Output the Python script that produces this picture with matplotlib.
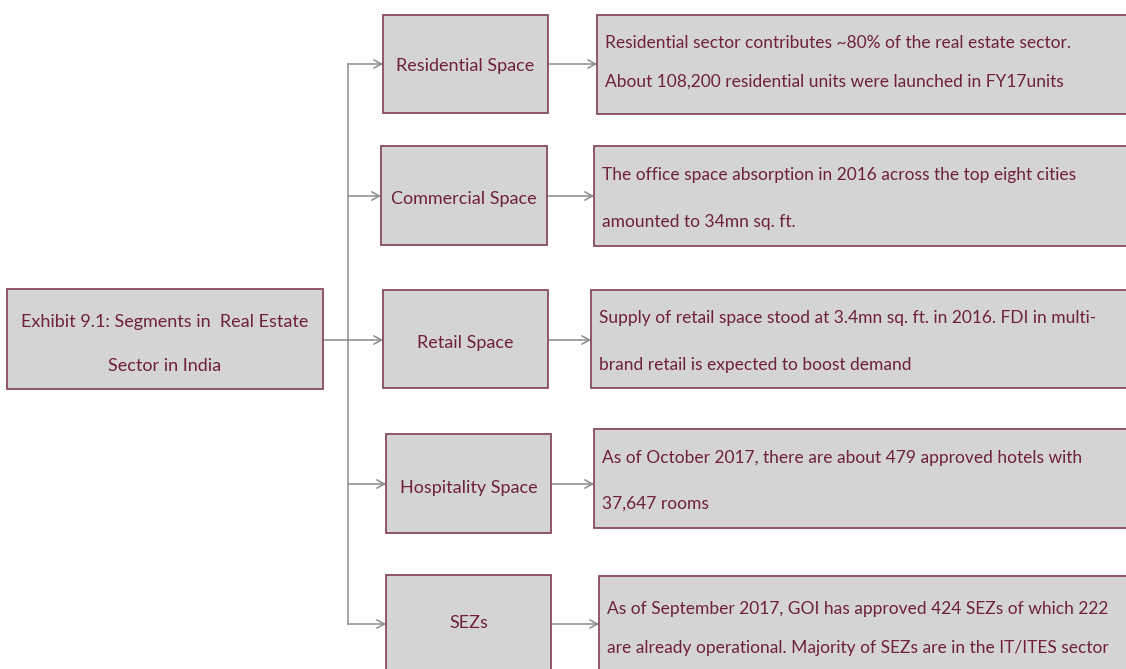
import matplotlib
matplotlib.use('Agg')
import matplotlib.pyplot as plt
from matplotlib.patches import Rectangle

title = ['Exhibit 9.1: Segments in  Real Estate', 'Sector in India']
segments = ['Residential Space', 'Commercial Space', 'Retail Space',
            'Hospitality Space', 'SEZs']
notes = [
    ['Residential sector contributes ~80% of the real estate sector.',
     'About 108,200 residential units were launched in FY17units'],
    ['The office space absorption in 2016 across the top eight cities',
     'amounted to 34mn sq. ft.'],
    ['Supply of retail space stood at 3.4mn sq. ft. in 2016. FDI in multi-',
     'brand retail is expected to boost demand'],
    ['As of October 2017, there are about 479 approved hotels with',
     '37,647 rooms'],
    ['As of September 2017, GOI has approved 424 SEZs of which 222',
     'are already operational. Majority of SEZs are in the IT/ITES sector'],
]

# layout in pixels (x0, x1, y0, y1)
mid_boxes = [(383, 548, 15, 113), (381, 547, 146, 245), (383, 548, 290, 388),
             (386, 551, 434, 533), (386, 551, 575, 700)]
note_boxes = [(597, 1140, 15, 114), (594, 1140, 146, 246), (591, 1140, 290, 388),
              (594, 1140, 429, 528), (599, 1140, 576, 700)]
arrow_y = [64, 196, 340, 484, 624]
mid_text_y = [66, 199, 343, 488, 623]
note_text_y = [(43, 82), (175, 222), (318, 365), (458, 504), (609, 648)]
spine_x = 348

fill = '#d4d4d4'
edge = '#8a4a5a'
ink = '#6e2139'
grey = '#8c8c8c'
font = 'Lato'
fs = 13.0
fs_note = 12.5

fig = plt.figure(figsize=(11.26, 6.69), dpi=100)
ax = fig.add_axes([0, 0, 1, 1])
ax.set_xlim(0, 1126)
ax.set_ylim(669, 0)
ax.axis('off')


def box(x0, x1, y0, y1):
    ax.add_patch(Rectangle((x0, y0), x1 - x0, y1 - y0, facecolor=fill,
                           edgecolor=edge, lw=1.3, zorder=2))


def arrow(x0, x1, y):
    ax.annotate('', xy=(x1, y), xytext=(x0, y),
                arrowprops=dict(arrowstyle='->,head_length=0.55,head_width=0.3',
                                color=grey, lw=1.1, shrinkA=0, shrinkB=0),
                zorder=1)


# root box
box(7, 323, 289, 389)
ax.text(165, 322, title[0], ha='center', va='center', color=ink,
        family=font, fontsize=fs)
ax.text(165, 366, title[1], ha='center', va='center', color=ink,
        family=font, fontsize=fs)

# connector spine
ax.plot([spine_x, spine_x], [arrow_y[0], arrow_y[-1]], color=grey, lw=1.1, zorder=1)
ax.plot([323, spine_x], [340, 340], color=grey, lw=1.1, zorder=1)

for i, name in enumerate(segments):
    mx0, mx1, my0, my1 = mid_boxes[i]
    nx0, nx1, ny0, ny1 = note_boxes[i]
    y = arrow_y[i]
    arrow(spine_x, mx0, y)
    arrow(mx1, nx0, y)
    box(mx0, mx1, my0, my1)
    box(nx0, nx1, ny0, ny1)
    ax.text((mx0 + mx1) / 2, mid_text_y[i], name, ha='center', va='center',
            color=ink, family=font, fontsize=fs)
    for line, ty in zip(notes[i], note_text_y[i]):
        ax.text(nx0 + 8, ty, line, ha='left', va='center', color=ink,
                family=font, fontsize=fs_note)

fig.savefig('out.png', dpi=100, facecolor='white')
